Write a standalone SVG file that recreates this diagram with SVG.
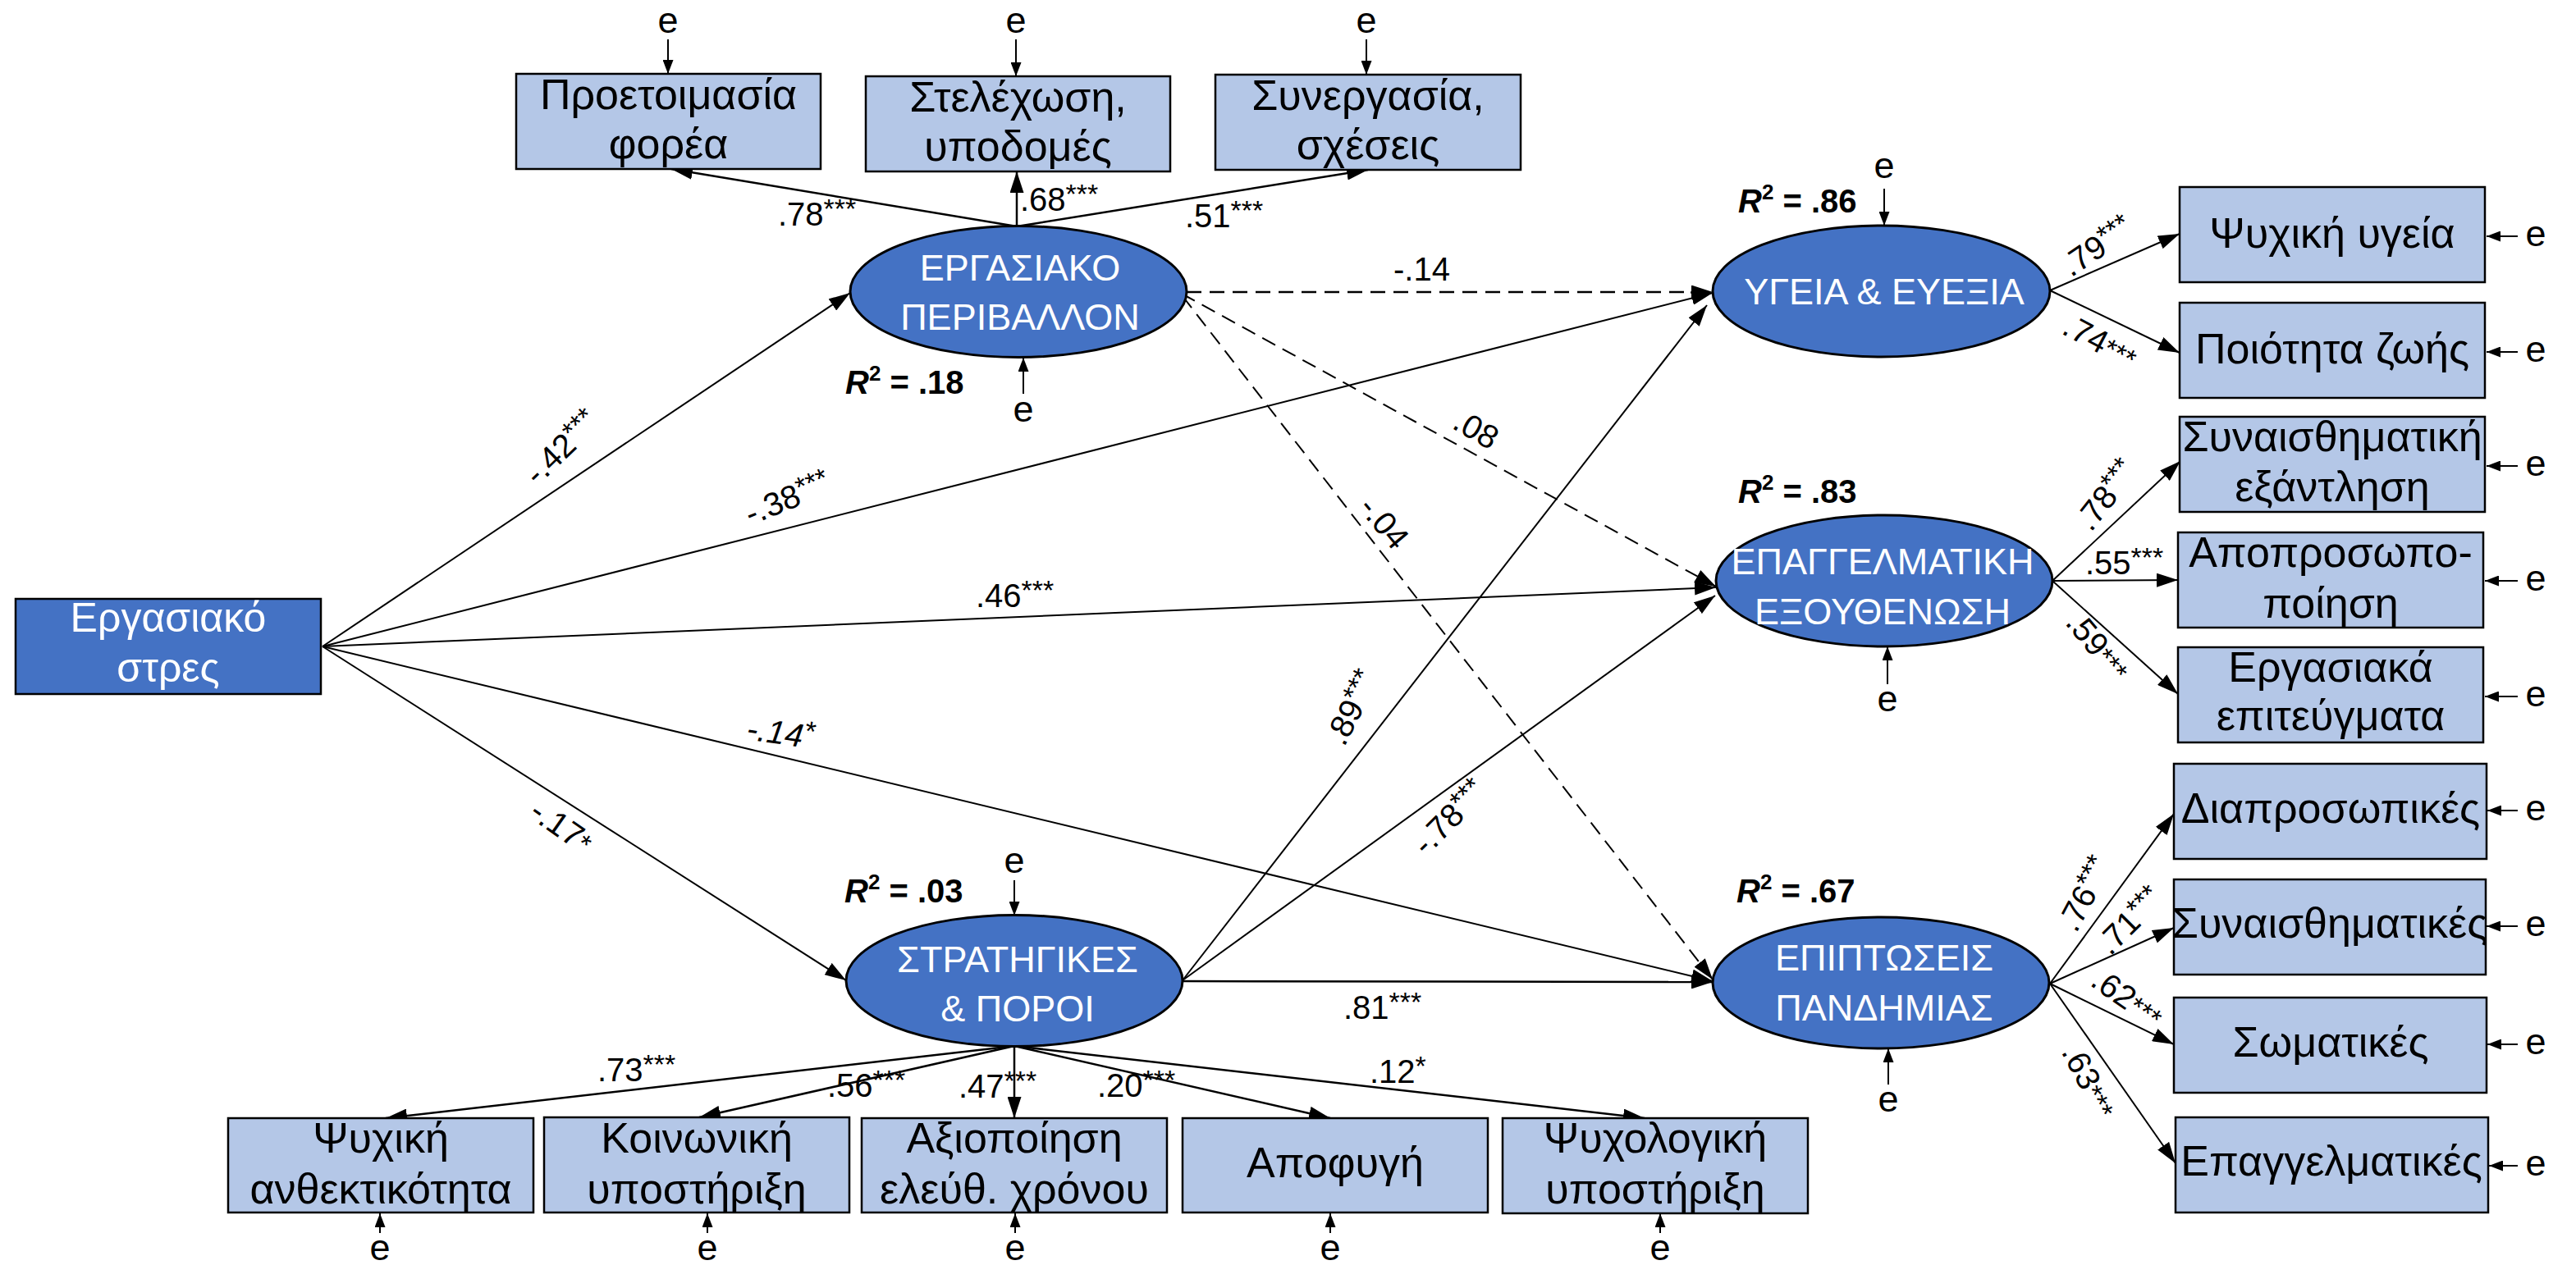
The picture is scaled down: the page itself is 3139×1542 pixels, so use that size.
<svg xmlns="http://www.w3.org/2000/svg" width="3139" height="1542" viewBox="0 0 3139 1542">
<style>
text{font-family:"Liberation Sans",Arial,sans-serif;fill:#000}
.box{fill:#B4C7E7;stroke:#000;stroke-width:2.5}
.sbox{fill:#4472C4;stroke:#000;stroke-width:2.5}
.ell{fill:#4472C4;stroke:#000;stroke-width:3}
.bt{font-size:52px;text-anchor:middle}
.wt{font-size:50px;text-anchor:middle;fill:#fff}
.et{font-size:45px;text-anchor:middle;fill:#fff}
.c{font-size:40px}
.cm{font-size:40px;text-anchor:middle}
.s{font-size:34px}
.r2{font-size:40px;font-weight:bold}
.e{font-size:45px;text-anchor:middle}
.ln{fill:none;stroke:#000;stroke-width:2.5;marker-end:url(#ah)}
.thin{stroke-width:2}
.dash{stroke-dasharray:18 10}
.ea{fill:none;stroke:#000;stroke-width:2;marker-end:url(#eh)}
</style>
<defs>
<marker id="ah" viewBox="0 0 26 17" refX="26" refY="8.5" markerWidth="26" markerHeight="17" markerUnits="userSpaceOnUse" orient="auto" preserveAspectRatio="none"><path d="M0,0 L26,8.5 L0,17 z" fill="#000"/></marker>
<marker id="eh" viewBox="0 0 17 13" refX="17" refY="6.5" markerWidth="17" markerHeight="13" markerUnits="userSpaceOnUse" orient="auto" preserveAspectRatio="none"><path d="M0,0 L17,6.5 L0,13 z" fill="#000"/></marker>
</defs>
<rect width="3139" height="1542" fill="#fff"/>

<g id="connectors">
<line class="ln thin" x1="393" y1="788" x2="1036" y2="357"/>
<line class="ln thin" x1="393" y1="788" x2="2087" y2="357"/>
<line class="ln thin" x1="393" y1="788" x2="2091" y2="716"/>
<line class="ln thin" x1="393" y1="788" x2="2087" y2="1196"/>
<line class="ln thin" x1="393" y1="788" x2="1031" y2="1195"/>
<line class="ln dash" x1="1446" y1="356" x2="2087" y2="356"/>
<line class="ln thin dash" x1="1440" y1="358" x2="2091" y2="715"/>
<line class="ln thin dash" x1="1441" y1="361" x2="2087" y2="1194"/>
<line class="ln thin" x1="1441" y1="1195" x2="2080" y2="372"/>
<line class="ln thin" x1="1441" y1="1195" x2="2090" y2="726"/>
<line class="ln" x1="1441" y1="1196" x2="2087" y2="1197"/>
<line class="ln" x1="1239" y1="276" x2="818" y2="206"/>
<line class="ln" x1="1239" y1="276" x2="1239" y2="209"/>
<line class="ln" x1="1239" y1="276" x2="1667" y2="207"/>
<line class="ln" x1="1236" y1="1275" x2="470" y2="1363"/>
<line class="ln" x1="1236" y1="1275" x2="852" y2="1362"/>
<line class="ln" x1="1236" y1="1275" x2="1236" y2="1363"/>
<line class="ln" x1="1236" y1="1275" x2="1621" y2="1363"/>
<line class="ln" x1="1236" y1="1275" x2="2004" y2="1363"/>
<line class="ln thin" x1="2498" y1="354" x2="2656" y2="285"/>
<line class="ln thin" x1="2498" y1="354" x2="2656" y2="430"/>
<line class="ln thin" x1="2501" y1="708" x2="2657" y2="562"/>
<line class="ln thin" x1="2501" y1="708" x2="2654" y2="707"/>
<line class="ln thin" x1="2501" y1="708" x2="2654" y2="846"/>
<line class="ln thin" x1="2498" y1="1199" x2="2649" y2="992"/>
<line class="ln thin" x1="2498" y1="1199" x2="2649" y2="1131"/>
<line class="ln thin" x1="2498" y1="1199" x2="2649" y2="1273"/>
<line class="ln thin" x1="2498" y1="1199" x2="2651" y2="1418"/>
<line class="ea" x1="814" y1="48" x2="814" y2="90"/>
<line class="ea" x1="1238" y1="48" x2="1238" y2="93"/>
<line class="ea" x1="1665" y1="48" x2="1665" y2="91"/>
<line class="ea" x1="1247" y1="480" x2="1247" y2="436"/>
<line class="ea" x1="2296" y1="230" x2="2296" y2="275"/>
<line class="ea" x1="2300" y1="834" x2="2300" y2="788"/>
<line class="ea" x1="2301" y1="1322" x2="2301" y2="1278"/>
<line class="ea" x1="1236" y1="1073" x2="1236" y2="1116"/>
<line class="ea" x1="463" y1="1503" x2="463" y2="1479"/>
<line class="ea" x1="862" y1="1503" x2="862" y2="1479"/>
<line class="ea" x1="1237" y1="1503" x2="1237" y2="1479"/>
<line class="ea" x1="1621" y1="1503" x2="1621" y2="1479"/>
<line class="ea" x1="2023" y1="1503" x2="2023" y2="1479"/>
<line class="ea" x1="3068" y1="288" x2="3030" y2="288"/>
<line class="ea" x1="3068" y1="429" x2="3030" y2="429"/>
<line class="ea" x1="3068" y1="568" x2="3030" y2="568"/>
<line class="ea" x1="3068" y1="708" x2="3028" y2="708"/>
<line class="ea" x1="3068" y1="849" x2="3028" y2="849"/>
<line class="ea" x1="3068" y1="988" x2="3031" y2="988"/>
<line class="ea" x1="3068" y1="1129" x2="3030" y2="1129"/>
<line class="ea" x1="3068" y1="1273" x2="3031" y2="1273"/>
<line class="ea" x1="3068" y1="1421" x2="3033" y2="1421"/>
</g>

<g id="stress"><rect class="sbox" x="19" y="730" width="372" height="116"/><text class="wt" x="205" y="770">Εργασιακό</text><text class="wt" x="205" y="831">στρες</text></g>

<g id="work-env"><ellipse class="ell" cx="1241" cy="355.5" rx="205" ry="80"/><text class="et" x="1243" y="342">ΕΡΓΑΣΙΑΚΟ</text><text class="et" x="1243" y="402">ΠΕΡΙΒΑΛΛΟΝ</text></g>
<g id="strategies"><ellipse class="ell" cx="1236" cy="1195.5" rx="205" ry="80"/><text class="et" x="1240" y="1185">ΣΤΡΑΤΗΓΙΚΕΣ</text><text class="et" x="1240" y="1245">&amp; ΠΟΡΟΙ</text></g>
<g id="health"><ellipse class="ell" cx="2292.5" cy="355" rx="205.5" ry="80"/><text class="et" x="2296" y="371">ΥΓΕΙΑ &amp; ΕΥΕΞΙΑ</text></g>
<g id="burnout"><ellipse class="ell" cx="2296" cy="708" rx="205" ry="80"/><text class="et" x="2294" y="700">ΕΠΑΓΓΕΛΜΑΤΙΚΗ</text><text class="et" x="2294" y="761">ΕΞΟΥΘΕΝΩΣΗ</text></g>
<g id="pandemic"><ellipse class="ell" cx="2292" cy="1198" rx="205" ry="80"/><text class="et" x="2296" y="1183">ΕΠΙΠΤΩΣΕΙΣ</text><text class="et" x="2296" y="1244">ΠΑΝΔΗΜΙΑΣ</text></g>

<g id="prep"><rect class="box" x="629" y="90" width="371" height="116"/><text class="bt" x="814.5" y="133">Προετοιμασία</text><text class="bt" x="814.5" y="193">φορέα</text></g>
<g id="staff"><rect class="box" x="1055" y="93" width="371" height="116"/><text class="bt" x="1240.5" y="136">Στελέχωση,</text><text class="bt" x="1240.5" y="196">υποδομές</text></g>
<g id="coop"><rect class="box" x="1481" y="91" width="372" height="116"/><text class="bt" x="1667" y="134">Συνεργασία,</text><text class="bt" x="1667" y="194">σχέσεις</text></g>

<g id="mental"><rect class="box" x="2656" y="228" width="372" height="116"/><text class="bt" x="2842" y="302">Ψυχική υγεία</text></g>
<g id="qol"><rect class="box" x="2656" y="369" width="372" height="116"/><text class="bt" x="2842" y="443">Ποιότητα ζωής</text></g>
<g id="exhaust"><rect class="box" x="2656" y="508" width="372" height="116"/><text class="bt" x="2842" y="550" font-size="51">Συναισθηματική</text><text class="bt" x="2842" y="611">εξάντληση</text></g>
<g id="depers"><rect class="box" x="2654" y="649" width="372" height="116"/><text class="bt" x="2840" y="691">Αποπροσωπο-</text><text class="bt" x="2840" y="753">ποίηση</text></g>
<g id="achieve"><rect class="box" x="2654" y="789" width="372" height="116"/><text class="bt" x="2840" y="831">Εργασιακά</text><text class="bt" x="2840" y="890">επιτεύγματα</text></g>

<g id="interp"><rect class="box" x="2649" y="931" width="381" height="116"/><text class="bt" x="2840" y="1003">Διαπροσωπικές</text></g>
<g id="emot"><rect class="box" x="2649" y="1072" width="380" height="116"/><text class="bt" x="2839" y="1143" font-size="50">Συναισθηματικές</text></g>
<g id="somatic"><rect class="box" x="2649" y="1216" width="381" height="116"/><text class="bt" x="2840" y="1288">Σωματικές</text></g>
<g id="profes"><rect class="box" x="2651" y="1362" width="381" height="116"/><text class="bt" x="2841" y="1433">Επαγγελματικές</text></g>

<g id="resil"><rect class="box" x="278" y="1363" width="372" height="115"/><text class="bt" x="464" y="1405">Ψυχική</text><text class="bt" x="464" y="1467">ανθεκτικότητα</text></g>
<g id="social"><rect class="box" x="663" y="1362" width="372" height="116"/><text class="bt" x="849" y="1405">Κοινωνική</text><text class="bt" x="849" y="1467">υποστήριξη</text></g>
<g id="leisure"><rect class="box" x="1050" y="1363" width="372" height="115"/><text class="bt" x="1236" y="1405">Αξιοποίηση</text><text class="bt" x="1236" y="1467">ελεύθ. χρόνου</text></g>
<g id="avoid"><rect class="box" x="1441" y="1363" width="372" height="115"/><text class="bt" x="1627" y="1435">Αποφυγή</text></g>
<g id="psysup"><rect class="box" x="1831" y="1363" width="372" height="116"/><text class="bt" x="2017" y="1405">Ψυχολογική</text><text class="bt" x="2017" y="1467">υποστήριξη</text></g>

<g id="errors">
<text class="e" x="814" y="40">e</text>
<text class="e" x="1238" y="40">e</text>
<text class="e" x="1665" y="40">e</text>
<text class="e" x="1247" y="514">e</text>
<text class="e" x="2296" y="217">e</text>
<text class="e" x="2300" y="867">e</text>
<text class="e" x="2301" y="1355">e</text>
<text class="e" x="1236" y="1064">e</text>
<text class="e" x="463" y="1536">e</text>
<text class="e" x="862" y="1536">e</text>
<text class="e" x="1237" y="1536">e</text>
<text class="e" x="1621" y="1536">e</text>
<text class="e" x="2023" y="1536">e</text>
<text class="e" x="3090" y="300">e</text>
<text class="e" x="3090" y="441">e</text>
<text class="e" x="3090" y="580">e</text>
<text class="e" x="3090" y="720">e</text>
<text class="e" x="3090" y="861">e</text>
<text class="e" x="3090" y="1000">e</text>
<text class="e" x="3090" y="1141">e</text>
<text class="e" x="3090" y="1285">e</text>
<text class="e" x="3090" y="1433">e</text>
</g>

<g id="r2">
<text class="r2" x="1030" y="480"><tspan font-style="italic">R</tspan><tspan font-size="26" dy="-16">2</tspan><tspan dy="16"> = .18</tspan></text>
<text class="r2" x="2118" y="259"><tspan font-style="italic">R</tspan><tspan font-size="26" dy="-16">2</tspan><tspan dy="16"> = .86</tspan></text>
<text class="r2" x="2118" y="613"><tspan font-style="italic">R</tspan><tspan font-size="26" dy="-16">2</tspan><tspan dy="16"> = .83</tspan></text>
<text class="r2" x="2116" y="1100"><tspan font-style="italic">R</tspan><tspan font-size="26" dy="-16">2</tspan><tspan dy="16"> = .67</tspan></text>
<text class="r2" x="1029" y="1100"><tspan font-style="italic">R</tspan><tspan font-size="26" dy="-16">2</tspan><tspan dy="16"> = .03</tspan></text>
</g>

<g id="coefficients">
<text class="c" x="948" y="275">.78<tspan class="s" dy="-9">***</tspan></text>
<text class="c" x="1243" y="257">.68<tspan class="s" dy="-9">***</tspan></text>
<text class="c" x="1444" y="277">.51<tspan class="s" dy="-9">***</tspan></text>
<text class="c" x="1698" y="342">-.14</text>
<text class="cm" transform="translate(685,546) rotate(-44)" y="13">-.42<tspan class="s" dy="-9">***</tspan></text>
<text class="cm" transform="translate(960,608) rotate(-22)" y="13">-.38<tspan class="s" dy="-9">***</tspan></text>
<text class="c" x="1189" y="740">.46<tspan class="s" dy="-9">***</tspan></text>
<text class="cm" font-style="italic" transform="translate(951,894) rotate(8)" y="13">-.14<tspan class="s" dy="-9">*</tspan></text>
<text class="cm" transform="translate(684,1008) rotate(35)" y="13">-.17<tspan class="s" dy="0">*</tspan></text>
<text class="cm" transform="translate(1799,523) rotate(30)" y="14">.08</text>
<text class="cm" transform="translate(1687,637) rotate(50)" y="14">-.04</text>
<text class="cm" transform="translate(1648,863) rotate(-63)" y="13">.89<tspan class="s" dy="-9">***</tspan></text>
<text class="cm" transform="translate(1767,997) rotate(-45)" y="13">-.78<tspan class="s" dy="-9">***</tspan></text>
<text class="c" x="1637" y="1242">.81<tspan class="s" dy="-9">***</tspan></text>
<text class="cm" transform="translate(2556,301) rotate(-34)" y="13">.79<tspan class="s" dy="-9">***</tspan></text>
<text class="cm" transform="translate(2559,417) rotate(28)" y="13">.74<tspan class="s" dy="0">***</tspan></text>
<text class="cm" transform="translate(2567,604) rotate(-52)" y="13">.78<tspan class="s" dy="-9">***</tspan></text>
<text class="c" x="2541" y="700">.55<tspan class="s" dy="-9">***</tspan></text>
<text class="cm" transform="translate(2556,788) rotate(50)" y="13">.59<tspan class="s" dy="0">***</tspan></text>
<text class="cm" transform="translate(2541,1090) rotate(-62)" y="13">.76<tspan class="s" dy="-9">***</tspan></text>
<text class="cm" transform="translate(2596,1123) rotate(-45)" y="13">.71<tspan class="s" dy="-9">***</tspan></text>
<text class="cm" transform="translate(2592,1217) rotate(35)" y="13">.62<tspan class="s" dy="0">***</tspan></text>
<text class="cm" transform="translate(2545,1318) rotate(62)" y="13">.63<tspan class="s" dy="0">***</tspan></text>
<text class="c" x="728" y="1318">.73<tspan class="s" dy="-9">***</tspan></text>
<text class="c" x="1008" y="1337">.56<tspan class="s" dy="-9">***</tspan></text>
<text class="c" x="1168" y="1338">.47<tspan class="s" dy="-9">***</tspan></text>
<text class="c" x="1337" y="1337">.20<tspan class="s" dy="-9">***</tspan></text>
<text class="c" x="1669" y="1320">.12<tspan class="s" dy="-9">*</tspan></text>
</g>
</svg>
